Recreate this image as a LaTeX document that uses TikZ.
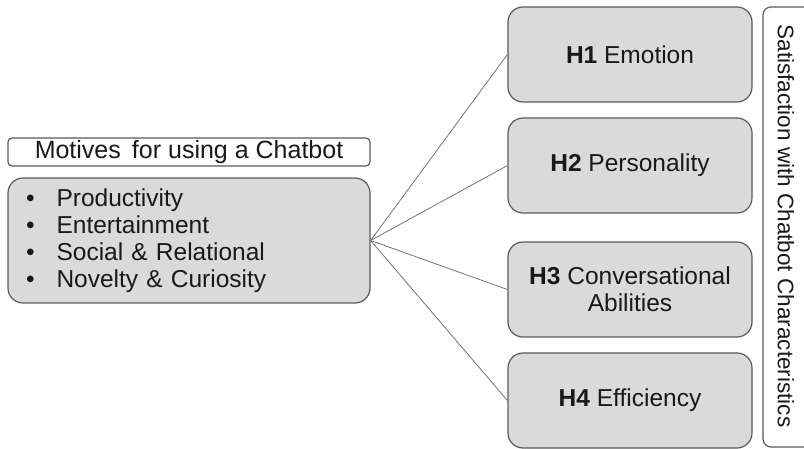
\documentclass[tikz,border=0pt]{standalone}
\usepackage{fontspec}
\setmainfont{Liberation Sans}
\usepackage{tikz}
\usetikzlibrary{positioning, calc}
\definecolor{boxfill}{RGB}{218,218,218}
\definecolor{boxline}{RGB}{90,90,90}
\definecolor{linkline}{RGB}{115,115,115}
\definecolor{textcol}{RGB}{25,25,25}
\tikzset{every node/.style={text=textcol}}
\tikzset{motive/.style={rectangle, rounded corners=15pt, draw=boxline, fill=boxfill,
  minimum height=125pt, text width=326pt, inner xsep=18pt, align=left,
  font=\fontsize{24.5}{27}\selectfont}}
\tikzset{caption/.style={rectangle, rounded corners=4pt, draw=boxline, fill=white,
  minimum width=362pt, minimum height=28pt, inner sep=0pt,
  font=\fontsize{25}{27}\selectfont}}
\tikzset{hyp/.style={rectangle, rounded corners=15pt, draw=boxline, fill=boxfill,
  minimum width=244pt, minimum height=95pt, inner sep=0pt, align=center,
  font=\fontsize{24.5}{27}\selectfont}}
\tikzset{link/.style={draw=linkline, line width=0.8pt}}

\begin{document}
\begin{tikzpicture}[x=1pt, y=-1pt, line width=1.2pt]
  \useasboundingbox (0,0) rectangle (804,449);
  % Left side
  \node[caption] (title) at (189,152) {Motives \,for using a Chatbot};
  \node[motive] (motives) at (189,240.5) {%
    \textbullet\hspace{22pt}Productivity\\
    \textbullet\hspace{22pt}Entertainment\\
    \textbullet\hspace{22pt}Social \& Relational\\
    \textbullet\hspace{22pt}Novelty \& Curiosity};
  % Hypotheses
  \node[hyp] (h1) at (630,54.5) {\textbf{H1} Emotion};
  \node[hyp] (h2) at (630,165.5) {\textbf{H2} Personality};
  \node[hyp] (h3) at (630,289.5) {\textbf{H3} Conversational\\Abilities};
  \node[hyp] (h4) at (630,400.5) {\textbf{H4} Efficiency};
  % Right side
  \draw[draw=boxline, rounded corners=8pt, fill=white] (763,7) rectangle (815,447);
  \node[rotate=-90, font=\fontsize{22.5}{26}\selectfont] (satisfaction) at (786,226)
    {Satisfaction with Chatbot Characteristics};
  % Links
  \foreach \h in {h1,h2,h3,h4}
    \draw[link] (motives.east) -- (\h.west);
\end{tikzpicture}
\end{document}
